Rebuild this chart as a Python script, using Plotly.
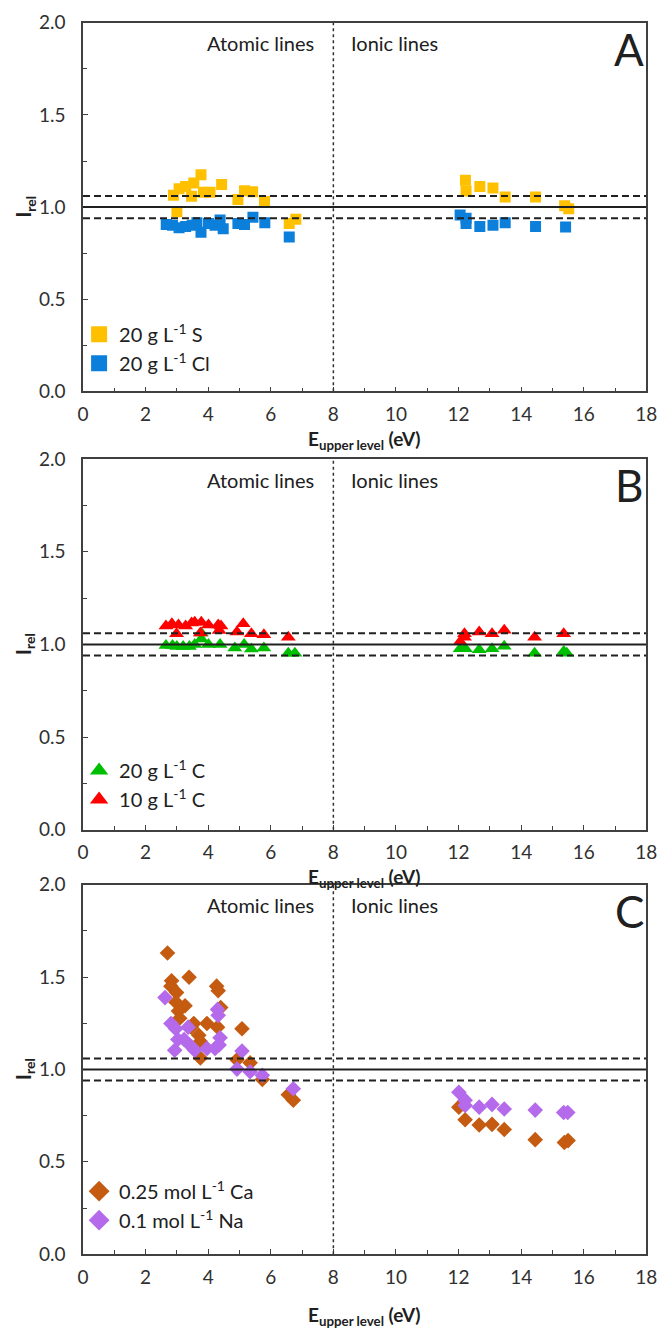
import plotly.graph_objects as go

# ---------------- data ----------------
# Panel A
s_E = [2.89, 3.00, 3.07, 3.28, 3.47, 3.54, 3.77, 3.85, 4.06, 4.43, 4.95, 5.16, 5.42, 5.80, 6.59, 6.80,
       12.22, 12.24, 12.68, 13.10, 13.49, 14.46, 15.39, 15.52]
s_I = [1.064, 0.974, 1.100, 1.112, 1.059, 1.131, 1.175, 1.080, 1.080, 1.122, 1.041, 1.089, 1.083, 1.030, 0.911, 0.934,
       1.145, 1.087, 1.112, 1.103, 1.055, 1.055, 1.007, 0.991]
cl_E = [2.66, 2.86, 3.07, 3.28, 3.49, 3.64, 3.77, 4.01, 4.22, 4.38, 4.48, 4.95, 5.16, 5.43, 5.81, 6.59,
        12.05, 12.24, 12.24, 12.68, 13.10, 13.49, 14.46, 15.42]
cl_I = [0.905, 0.901, 0.888, 0.895, 0.901, 0.915, 0.863, 0.911, 0.901, 0.930, 0.882, 0.911, 0.905, 0.945, 0.915, 0.838,
        0.957, 0.911, 0.940, 0.895, 0.901, 0.915, 0.895, 0.892]

# Panel B
c20_E = [2.65, 2.86, 3.00, 3.20, 3.40, 3.57, 3.78, 3.78, 4.01, 4.38, 4.85, 5.15, 5.38, 5.78, 6.56, 6.77,
         12.05, 12.22, 12.66, 13.07, 13.46, 14.43, 15.36, 15.46]
c20_I = [0.994, 0.994, 0.989, 0.989, 0.989, 1.000, 1.061, 1.029, 1.000, 1.000, 0.981, 1.000, 0.975, 0.980, 0.952, 0.952,
         0.977, 0.977, 0.971, 0.977, 0.990, 0.952, 0.962, 0.952]
c10_E = [2.65, 2.84, 2.99, 3.05, 3.28, 3.47, 3.57, 3.78, 3.75, 4.01, 4.32, 4.41, 4.35, 4.92, 5.12, 5.38, 5.78, 6.56,
         12.19, 12.19, 12.05, 12.66, 13.07, 13.46, 14.43, 15.36]
c10_I = [1.100, 1.111, 1.057, 1.105, 1.100, 1.115, 1.119, 1.119, 1.061, 1.105, 1.105, 1.100, 1.075, 1.067, 1.111, 1.057, 1.052, 1.038,
         1.057, 1.038, 1.015, 1.067, 1.057, 1.077, 1.038, 1.057]

# Panel C
ca_E = [2.70, 2.83, 2.81, 3.39, 2.99, 2.97, 3.26, 3.05, 3.09, 4.27, 4.32, 4.40, 3.54, 3.46, 3.96, 4.30, 3.70, 3.75, 3.75,
        5.08, 4.92, 5.34, 5.73, 6.56, 6.72,
        12.01, 12.21, 12.66, 13.07, 13.46, 14.45, 15.38, 15.50]
ca_I = [1.630, 1.480, 1.451, 1.499, 1.416, 1.364, 1.345, 1.316, 1.277, 1.451, 1.426, 1.335, 1.249, 1.229, 1.249, 1.229, 1.185, 1.152, 1.062,
        1.220, 1.052, 1.036, 0.946, 0.863, 0.834,
        0.796, 0.728, 0.699, 0.703, 0.675, 0.620, 0.605, 0.615]
na_E = [2.62, 4.30, 4.32, 2.81, 2.96, 3.03, 3.23, 2.93, 3.36, 3.47, 3.57, 3.96, 4.22, 4.38, 4.35, 5.08, 4.92, 5.34, 5.73, 6.72,
        12.01, 12.21, 12.21, 12.66, 13.07, 13.46, 14.45, 15.36, 15.49]
na_I = [1.389, 1.325, 1.293, 1.249, 1.220, 1.162, 1.162, 1.104, 1.229, 1.123, 1.104, 1.114, 1.114, 1.172, 1.133, 1.100, 1.002, 0.988, 0.969, 0.896,
        0.877, 0.834, 0.805, 0.796, 0.811, 0.786, 0.780, 0.767, 0.767]

ref_levels = [1.0, 1.06, 0.94]
x_ticks = [0, 2, 4, 6, 8, 10, 12, 14, 16, 18]
y_ticks = [0.0, 0.5, 1.0, 1.5, 2.0]
panel_letters = ["A", "B", "C"]

# ---------------- figure ----------------
FONT = "Lato"
W, H = 670, 1335
x_dom = [79.0 / W, 657.0 / W]
panels_px = [(11.0, 386.0), (455.0, 832.0), (888.0, 1264.0)]
title_off = [49, 49, 63]
legend_tops = [308, 752, 1180]
y_doms = [[1 - b / H, 1 - t / H] for t, b in panels_px]

fig = go.Figure()

series = [
    (1, s_E, s_I, "20 g L<sup>-1</sup> S", "square", "#FFC000", 11, 16, "legend"),
    (1, cl_E, cl_I, "20 g L<sup>-1</sup> Cl", "square", "#0B7FDA", 11, 16, "legend"),
    (2, c20_E, c20_I, "20 g L<sup>-1</sup> C", "triangle-up", "#00BE00", 13, 17, "legend2"),
    (2, c10_E, c10_I, "10 g L<sup>-1</sup> C", "triangle-up", "#FF0000", 13, 17, "legend2"),
    (3, ca_E, ca_I, "0.25 mol L<sup>-1</sup> Ca", "diamond", "#C55A11", 12, 16, "legend3"),
    (3, na_E, na_I, "0.1 mol L<sup>-1</sup> Na", "diamond", "#B46AEA", 12, 16, "legend3"),
]
for i, (p, xs, ys, name, sym, col, sz, lsz, lg) in enumerate(series):
    sfx = "" if p == 1 else str(p)
    fig.add_trace(go.Scatter(
        x=xs, y=ys, mode="markers", name=name, showlegend=False,
        marker=dict(symbol=sym, color=col, size=sz, line=dict(width=0)),
        xaxis="x" + sfx, yaxis="y" + sfx,
    ))
    # legend entry (larger symbol, no data points)
    fig.add_trace(go.Scatter(
        x=[None], y=[None], mode="markers", name=name, showlegend=True,
        marker=dict(symbol=sym, color=col, size=lsz, line=dict(width=0)),
        xaxis="x" + sfx, yaxis="y" + sfx, legend=lg, legendgroup="g%d" % i,
    ))

axis_common = dict(
    showline=True, linecolor="#404040", linewidth=1.5, mirror=True,
    showgrid=False, zeroline=False,
    ticks="inside", ticklen=5, tickcolor="#404040", tickwidth=1,
    tickfont=dict(family=FONT, size=19, color="#303030"),
)

layout = dict(
    width=W, height=H, margin=dict(l=0, r=0, t=0, b=0),
    plot_bgcolor="white", paper_bgcolor="white",
    font=dict(family=FONT, color="#202020"),
    showlegend=True,
)
for p in range(1, 4):
    sfx = "" if p == 1 else str(p)
    layout["xaxis" + sfx] = dict(axis_common, domain=x_dom, anchor="y" + sfx, range=[0, 18],
                                 tickvals=x_ticks, ticklabelstandoff=5,
                                 minor=dict(ticks="inside", dtick=1, ticklen=4, tickcolor="#404040"))
    layout["yaxis" + sfx] = dict(axis_common, domain=y_doms[p - 1], anchor="x" + sfx, range=[0, 2],
                                 tickvals=y_ticks, tickformat=".1f", ticklabelstandoff=12,
                                 minor=dict(ticks="inside", dtick=0.25, ticklen=4, tickcolor="#404040"))

for p in range(1, 4):
    key = "legend" if p == 1 else "legend%d" % p
    layout[key] = dict(x=75 / W, xanchor="left", y=1 - legend_tops[p - 1] / H, yanchor="top",
                       bgcolor="rgba(0,0,0,0)", font=dict(family=FONT, size=20, color="#202020"),
                       traceorder="grouped", tracegroupgap=0, itemwidth=30)
fig.update_layout(**layout)

shapes = []
annotations = []
for p in range(1, 4):
    sfx = "" if p == 1 else str(p)
    xr, yr = "x" + sfx, "y" + sfx
    for lev in ref_levels:
        shapes.append(dict(type="line", xref=xr, yref=yr, x0=0, x1=18, y0=lev, y1=lev,
                           line=dict(color="#202020", width=2,
                                     dash="solid" if lev == 1.0 else "7px,4px")))
    shapes.append(dict(type="line", xref=xr, yref=yr, x0=8, x1=8, y0=0, y1=2,
                       line=dict(color="#303030", width=1.5, dash="dot")))
    annotations += [
        dict(xref=xr, yref=yr, x=7.45, y=1.89, text="Atomic lines", showarrow=False,
             xanchor="right", font=dict(family=FONT, size=20, color="#202020")),
        dict(xref=xr, yref=yr, x=8.5, y=1.89, text="Ionic lines", showarrow=False,
             xanchor="left", font=dict(family=FONT, size=20, color="#202020")),
        dict(xref=xr, yref=yr, x=17.45, y=1.86, text=panel_letters[p - 1], showarrow=False,
             xanchor="center", font=dict(family=FONT, size=44, color="#202020")),
    ]
    t, b = panels_px[p - 1]
    annotations.append(dict(xref="paper", yref="paper", x=(x_dom[0] + x_dom[1]) / 2, y=1 - (b + title_off[p - 1]) / H,
                            text="<b>E<sub>upper level</sub> (eV)</b>", showarrow=False,
                            xanchor="center", yanchor="middle",
                            font=dict(family=FONT, size=19, color="#202020")))
    annotations.append(dict(xref="paper", yref="paper", x=19 / W, y=1 - ((t + b) / 2) / H,
                            text="<b>I<sub>rel</sub></b>", showarrow=False, textangle=-90,
                            xanchor="center", yanchor="middle",
                            font=dict(family=FONT, size=20, color="#202020")))
fig.update_layout(shapes=shapes, annotations=annotations)

fig.write_html("out.html")
